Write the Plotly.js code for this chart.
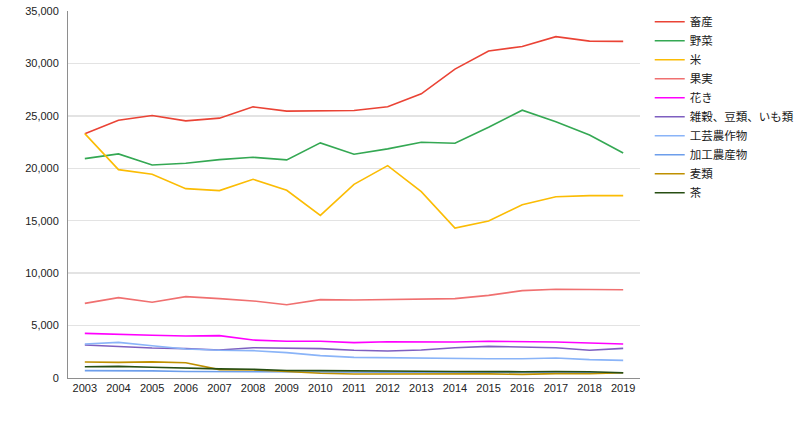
<!DOCTYPE html>
<html>
<head>
<meta charset="utf-8">
<script src="https://cdn.plot.ly/plotly-3.0.1.min.js"></script>
<style>html,body{margin:0;padding:0;background:#fff;}#chart{width:800px;height:421px;}</style>
</head>
<body>
<div id="chart"></div>
<script>
const years = [2003,2004,2005,2006,2007,2008,2009,2010,2011,2012,2013,2014,2015,2016,2017,2018,2019];
const seriesNames = ["畜産","野菜","米","果実","花き","雑穀、豆類、いも類","工芸農作物","加工農産物","麦類","茶"];
const chikusan = [23300,24590,25030,24520,24780,25860,25450,25510,25510,25860,27100,29460,31180,31620,32550,32130,32100];
const yasai = [20920,21370,20320,20480,20830,21050,20800,22420,21340,21850,22480,22390,23920,25540,24430,23180,21460];
const kome = [23310,19870,19430,18060,17870,18950,17900,15510,18470,20250,17770,14300,14970,16530,17290,17390,17390];
const kajitsu = [7120,7660,7220,7760,7570,7350,6990,7470,7440,7470,7570,7570,7880,8330,8460,8420,8420];
const kaki = [4260,4200,4070,4000,4040,3620,3500,3500,3370,3460,3430,3430,3500,3500,3430,3340,3240];
const zakkoku = [3150,2990,2860,2800,2670,2890,2830,2800,2640,2570,2670,2890,3020,2960,2890,2640,2830];
const kougei = [3240,3400,3080,2770,2640,2610,2420,2130,1970,1940,1840,1840,1840,1840,1910,1750,1680];
const kakou = [700,710,680,620,600,620,570,560,560,560,540,520,520,540,560,520,480];
const mugi = [1530,1490,1540,1460,800,760,620,450,380,400,420,380,390,350,420,400,500];
const cha = [1080,1110,1030,930,870,830,720,700,700,690,640,620,580,600,620,600,500];
const yTickVals = [0,5000,10000,15000,20000,25000,30000,35000];

const allValues = [chikusan,yasai,kome,kajitsu,kaki,zakkoku,kougei,kakou,mugi,cha];
const colors = ["#ea4335","#34a853","#fbbc04","#f07070","#ff00ff","#7e5fc0","#8ab4f8","#6d9eeb","#bf9000","#274e13"];

const traces = seriesNames.map((n,i)=>({
  type:"scatter", mode:"lines", name:n, x:years, y:allValues[i],
  line:{color:colors[i], width:1.6}
}));

const layout = {
  width:800, height:421,
  margin:{l:68, r:160, t:0, b:43},
  paper_bgcolor:"#fff", plot_bgcolor:"#fff",
  font:{family:"Liberation Sans, Arial, sans-serif", size:11, color:"#222"},
  showlegend:true,
  legend:{x:1.017, y:0.981, xanchor:"left", yanchor:"top",
    font:{family:"Noto Sans CJK JP, sans-serif", size:11.5, color:"#1a1a1a"},
    tracegroupgap:0, itemwidth:30, bgcolor:"rgba(0,0,0,0)"},
  xaxis:{range:[2002.5,2019.5], tickmode:"array", tickvals:years, ticktext:years.map(String),
    showgrid:false, zeroline:false, showline:true, linecolor:"#8e8e8e", linewidth:1,
    ticks:"", tickfont:{size:11, color:"#222"}, fixedrange:true},
  yaxis:{range:[0,35000], domain:[0,0.9709], tickmode:"array", tickvals:yTickVals, tickformat:",d",
    showgrid:true, gridcolor:"#e3e3e3", gridwidth:1.3, zeroline:false,
    showline:true, linecolor:"#8e8e8e", linewidth:1, ticks:"", ticklabelstandoff:6,
    tickfont:{size:11, color:"#222"}, fixedrange:true}
};
Plotly.newPlot("chart", traces, layout, {displayModeBar:false, staticPlot:true});
</script>
</body>
</html>
